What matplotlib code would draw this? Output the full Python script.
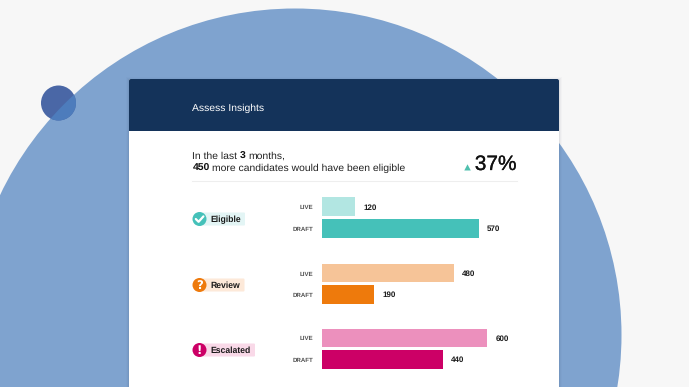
import matplotlib
matplotlib.use('Agg')
import matplotlib.pyplot as plt
import matplotlib.patheffects as pe
from matplotlib.patches import Circle, Rectangle, FancyBboxPatch, Polygon

plt.rcParams['font.family'] = ['Liberation Sans', 'DejaVu Sans']
plt.rcParams['text.hinting'] = 'no_hinting'
plt.rcParams['text.hinting_factor'] = 8

categorias = ['Eligible', 'Review', 'Escalated']
live = [120, 480, 600]
draft = [570, 190, 440]
simbolos = ['', '?', '!']

cores_live = ['#b2e6e2', '#f6c498', '#ec90bd']
cores_draft = ['#45c1b9', '#ee7a0c', '#cc0066']
cores_tag = ['#e3f5f5', '#fde9d9', '#f9d9e8']
larg_tag = [46, 45.5, 56]
centros = [219, 285, 350]
y_live = [206.7, 273, 337.8]
y_draft = [228.3, 294.5, 359.3]

W, H = 689, 387
fig = plt.figure(figsize=(W / 100, H / 100), dpi=100, facecolor='#f7f7f7')

# fundo em coordenadas de pixel
bg = fig.add_axes([0, 0, 1, 1])
bg.set_xlim(0, W)
bg.set_ylim(H, 0)
bg.axis('off')

bg.add_patch(Circle((295, 335), 326.5, color='#7fa3cf', lw=0))
bg.add_patch(Circle((58.5, 103), 17.5, color='#4a67a6', lw=0))
claro = Circle((58.5, 103), 17.5, color='#4d7cbc', lw=0)
bg.add_patch(claro)
claro.set_clip_path(Circle((295, 335), 326.5, transform=bg.transData))

# cartao
for i, a in enumerate([0.02, 0.03, 0.05]):
    d = 3 - i
    bg.add_patch(Rectangle((129 - d, 79 - d + 1), 430 + 2 * d, 320, color='#1a2a44', alpha=a, lw=0))
bg.add_patch(FancyBboxPatch((129, 79), 430, 330, boxstyle='round,pad=0,rounding_size=2',
                            fc='white', ec='none'))
bg.add_patch(FancyBboxPatch((129, 79), 430, 51.5, boxstyle='round,pad=0,rounding_size=2',
                            fc='#14335a', ec='none'))
bg.add_patch(Rectangle((129, 120), 430, 10.5, color='#14335a', lw=0))

bg.text(192.5, 110.5, 'Assess Insights', color='white', fontsize=7.5, va='baseline')

bg.text(192.5, 159, 'In the last', color='#222222', fontsize=7.5, va='baseline')
bg.text(239.3, 159, '3', color='#111111', fontsize=7.5, va='baseline', fontweight='bold')
bg.text(248.3, 159, 'months,', color='#222222', fontsize=7.5, va='baseline')
bg.text(192.5, 171, '450', color='#111111', fontsize=7.5, va='baseline', fontweight='bold')
bg.text(212.3, 171, 'more candidates would have been eligible', color='#222222', fontsize=7.5, va='baseline')

bg.add_patch(Polygon([[464.3, 170.5], [470.8, 170.5], [467.5, 164.3]], color='#4fc0ae', lw=0))
bg.text(474.8, 170, '37%', color='#111111', fontsize=15, va='baseline',
        path_effects=[pe.withStroke(linewidth=0.2, foreground='#111111')])
bg.plot([192, 517], [180.5, 180.5], color='#eeeeee', lw=0.8)

# etiquetas das categorias
for i, cat in enumerate(categorias):
    c = centros[i]
    bg.add_patch(FancyBboxPatch((199, c - 6.5), larg_tag[i], 13, boxstyle='round,pad=0,rounding_size=1',
                                fc=cores_tag[i], ec='none'))
    bg.add_patch(Circle((199.5, c), 7, color=cores_draft[i], lw=0))
    if simbolos[i]:
        bg.text(199.5, c + 0.5, simbolos[i], color='white', fontsize=8.5, fontweight='bold',
                ha='center', va='center', family=['DejaVu Sans'])
    else:
        bg.plot([195.8, 198.6, 203.4], [c, c + 2.8, c - 2.6], color='white', lw=1.6,
                solid_capstyle='round', solid_joinstyle='round')
    bg.text(210, c + 3, cat, color='#1a1a1a', fontsize=6.2, fontweight='bold', va='baseline')
    bg.text(313.5, y_live[i] + 2.5, 'LIVE', color='#505050', fontsize=4.4, fontweight='bold', ha='right', va='baseline')
    bg.text(313.5, y_draft[i] + 2.5, 'DRAFT', color='#505050', fontsize=4.4, fontweight='bold', ha='right', va='baseline')

# barras: eixo com a mesma altura do fundo, x em valores
x0, x1 = 322, 487
ax = fig.add_axes([x0 / W, 0, (x1 - x0) / W, 1])
ax.patch.set_alpha(0)
ax.set_xlim(0, 600)
ax.set_ylim(H, 0)
ax.axis('off')

ax.barh(y_live, live, height=18.5, color=cores_live)
ax.barh(y_draft, draft, height=18.5, color=cores_draft)
for i in range(3):
    ax.annotate(str(live[i]), (live[i], y_live[i]), xytext=(6, -0.6), textcoords='offset points',
                fontsize=5.8, fontweight='bold', color='#1a1a1a', va='center', annotation_clip=False)
    ax.annotate(str(draft[i]), (draft[i], y_draft[i]), xytext=(6, -0.6), textcoords='offset points',
                fontsize=5.8, fontweight='bold', color='#1a1a1a', va='center', annotation_clip=False)

fig.savefig('out.png', dpi=100, facecolor=fig.get_facecolor())
